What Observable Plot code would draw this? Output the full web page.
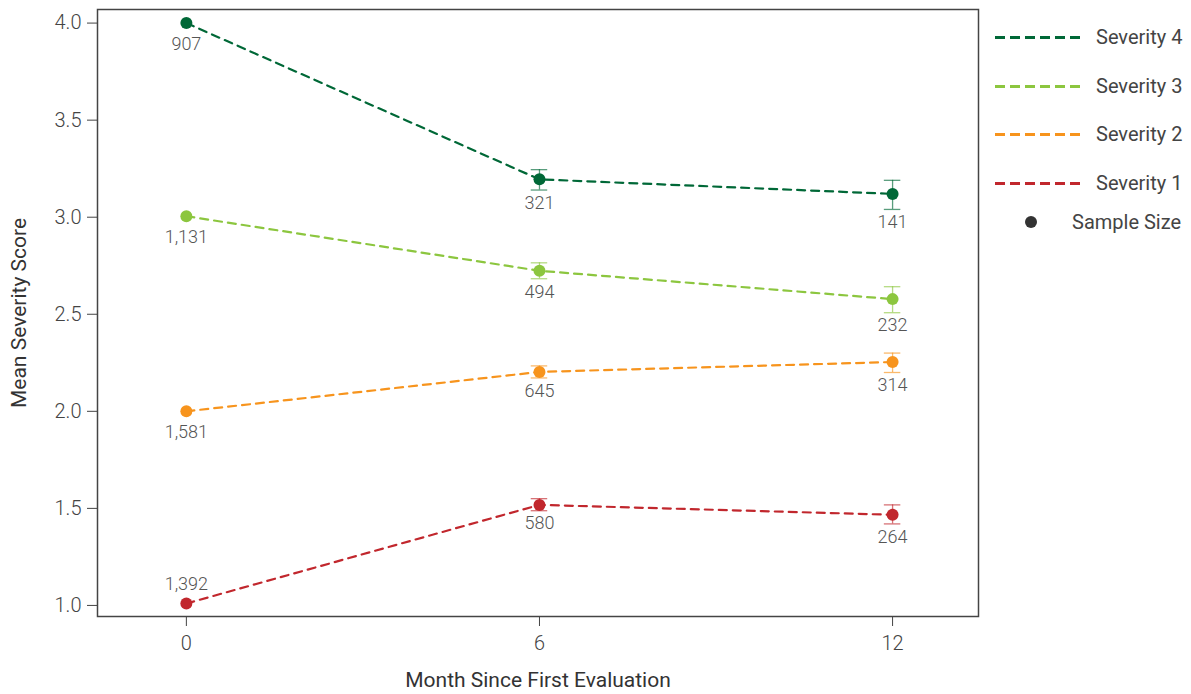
<!DOCTYPE html>
<html>
<head>
<meta charset="utf-8">
<script src="https://cdn.jsdelivr.net/npm/d3@7"></script>
<script src="https://cdn.jsdelivr.net/npm/@observablehq/plot@0.6"></script>
<style>
  html, body { margin: 0; padding: 0; background: #fff; }
  #wrap { position: relative; width: 1191px; height: 694px; font-family: Roboto, "Noto Sans", sans-serif; }
  #legend { position: absolute; left: 0; top: 0; width: 1191px; height: 694px; pointer-events: none; }
  .li { position: absolute; font-size: 20px; color: #444; white-space: nowrap; line-height: 24px; }
  .ln { position: absolute; height: 3px; }
  svg g[aria-label="x-axis label"], svg g[aria-label="y-axis label"] { font-size: 21px; font-weight: 400; fill: #333; }
</style>
</head>
<body>
<div id="wrap"><div id="chart"></div><div id="legend"></div></div>
<script>
const months = [0, 6, 12];
const seriesNames = ["Severity 4", "Severity 3", "Severity 2", "Severity 1"];
const seriesColors = ["#006837", "#8cc63f", "#f7941d", "#c1272d"];
const sev4Mean = [4.00, 3.195, 3.12];
const sev4Low  = [null, 3.14, 3.04];
const sev4High = [null, 3.245, 3.19];
const sev4N    = [907, 321, 141];
const sev3Mean = [3.005, 2.724, 2.578];
const sev3Low  = [null, 2.683, 2.508];
const sev3High = [null, 2.765, 2.642];
const sev3N    = [1131, 494, 232];
const sev2Mean = [2.0, 2.203, 2.254];
const sev2Low  = [null, 2.172, 2.200];
const sev2High = [null, 2.234, 2.300];
const sev2N    = [1581, 645, 314];
const sev1Mean = [1.01, 1.518, 1.467];
const sev1Low  = [null, 1.488, 1.420];
const sev1High = [null, 1.550, 1.518];
const sev1N    = [1392, 580, 264];
const yTicks = [1.0, 1.5, 2.0, 2.5, 3.0, 3.5, 4.0];
const xTicks = [0, 6, 12];

const raw = [
  [sev4Mean, sev4Low, sev4High, sev4N],
  [sev3Mean, sev3Low, sev3High, sev3N],
  [sev2Mean, sev2Low, sev2High, sev2N],
  [sev1Mean, sev1Low, sev1High, sev1N]
];
const data = [];
raw.forEach(([m, lo, hi, n], si) => {
  months.forEach((mo, i) => {
    data.push({series: seriesNames[si], month: mo, mean: m[i], low: lo[i], high: hi[i], n: n[i],
               above: seriesNames[si] === "Severity 1" && mo === 0});
  });
});
const errs = data.filter(d => d.low != null);
const fmt = d3.format(",");
const capHalf = 0.14;
const labelStyle = {x: "month", text: d => fmt(d.n), fill: "#555", fontSize: 18, fontWeight: 300, lineAnchor: "middle"};

const chart = Plot.plot({
  width: 1191,
  height: 694,
  marginLeft: 97,
  marginRight: 213,
  marginTop: 9,
  marginBottom: 78,
  style: {fontFamily: "Roboto, 'Noto Sans', sans-serif", fontSize: "20px", color: "#444", background: "#fff"},
  x: {domain: [-1.51, 13.46]},
  y: {domain: [0.943, 4.07]},
  color: {domain: seriesNames, range: seriesColors},
  marks: [
    Plot.frame({stroke: "#444", strokeWidth: 1.5}),
    Plot.axisX({ticks: xTicks, tickSize: 10, tickPadding: 9, tickFormat: d => d, fontSize: 20, fontWeight: 300,
      label: "Month Since First Evaluation", labelAnchor: "center", labelOffset: 70, labelArrow: false}),
    Plot.axisY({ticks: yTicks, tickSize: 10, tickPadding: 6, tickFormat: d3.format(".1f"), fontSize: 20, fontWeight: 300,
      label: "Mean Severity Score", labelAnchor: "center", labelOffset: 86, labelArrow: false}),
    Plot.ruleX(errs, {x: "month", y1: "low", y2: "high", stroke: "series", strokeOpacity: 0.65, strokeWidth: 1.3}),
    Plot.ruleY(errs, {y: "low", x1: d => d.month - capHalf, x2: d => d.month + capHalf, stroke: "series", strokeOpacity: 0.65, strokeWidth: 1.3}),
    Plot.ruleY(errs, {y: "high", x1: d => d.month - capHalf, x2: d => d.month + capHalf, stroke: "series", strokeOpacity: 0.65, strokeWidth: 1.3}),
    Plot.line(data, {x: "month", y: "mean", z: "series", stroke: "series", strokeWidth: 2.2, strokeDasharray: "8,6"}),
    Plot.dot(data, {x: "month", y: "mean", fill: "series", r: 6}),
    // labels under the error bar's lower end
    Plot.text(data, {...labelStyle, y: "low", filter: d => d.low != null, dy: 13}),
    // labels under points without error bars
    Plot.text(data, {...labelStyle, y: "mean", filter: d => d.low == null && !d.above, dy: 21}),
    // label above the point
    Plot.text(data, {...labelStyle, y: "mean", filter: d => d.above, dy: -19})
  ]
});
document.getElementById("chart").appendChild(chart);

// Legend
const legend = document.getElementById("legend");
const rows = [37, 86, 134, 183];
seriesNames.forEach((name, i) => {
  const ln = document.createElement("div");
  ln.className = "ln";
  ln.style.left = "995px"; ln.style.width = "86px"; ln.style.top = (rows[i] - 1) + "px";
  ln.style.background = `repeating-linear-gradient(to right, ${seriesColors[i]} 0 10px, transparent 10px 15px)`;
  legend.appendChild(ln);
  const t = document.createElement("div");
  t.className = "li"; t.textContent = name;
  t.style.left = "1096px"; t.style.top = (rows[i] - 12) + "px";
  legend.appendChild(t);
});
const dot = document.createElement("div");
dot.style.cssText = "position:absolute;left:1025px;top:216px;width:12px;height:12px;border-radius:50%;background:#333;";
legend.appendChild(dot);
const st = document.createElement("div");
st.className = "li"; st.textContent = "Sample Size";
st.style.left = "1072px"; st.style.top = "210px";
legend.appendChild(st);
</script>
</body>
</html>
